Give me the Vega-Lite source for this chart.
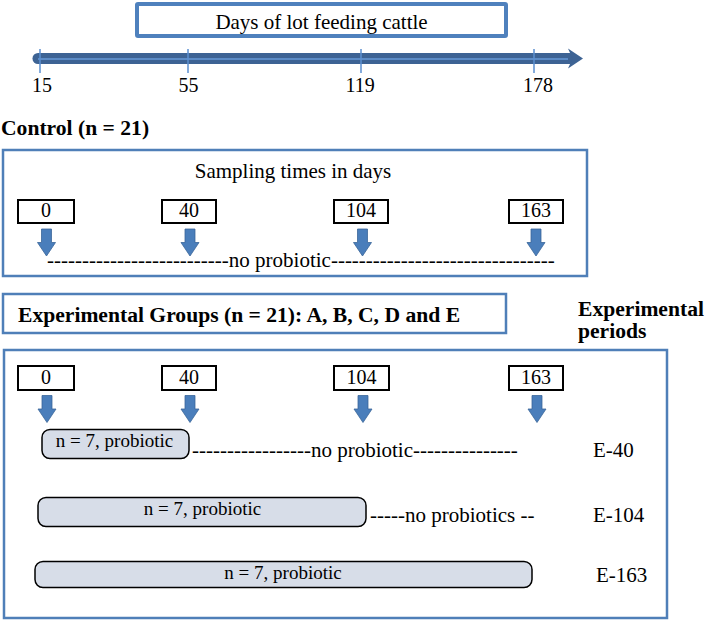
{
  "$schema": "https://vega.github.io/schema/vega-lite/v6.json",
  "width": 709,
  "height": 620,
  "padding": 0,
  "autosize": {"type": "fit", "contains": "padding"},
  "config": {"view": {"stroke": null}},
  "encoding": {
    "x": {"field": "x", "type": "quantitative", "scale": {"domain": [0, 709], "nice": false, "zero": false}, "axis": null},
    "y": {"field": "y", "type": "quantitative", "scale": {"domain": [0, 620], "nice": false, "zero": false, "reverse": true}, "axis": null}
  },
  "layer": [
    {
      "data": {"values": [
        {"name": "control", "x": 3, "x2": 587, "y": 150, "y2": 276},
        {"name": "groups", "x": 3, "x2": 506, "y": 294, "y2": 333},
        {"name": "experimental", "x": 4, "x2": 667, "y": 350, "y2": 618}
      ]},
      "mark": {"type": "rect", "fill": "white", "stroke": "#4f7fb8", "strokeWidth": 2.5},
      "encoding": {"x2": {"field": "x2"}, "y2": {"field": "y2"}}
    },
    {
      "data": {"values": [{"name": "title", "x": 137, "x2": 506, "y": 4, "y2": 36}]},
      "mark": {"type": "rect", "fill": "white", "stroke": "#4f81bd", "strokeWidth": 4, "cornerRadius": 1},
      "encoding": {"x2": {"field": "x2"}, "y2": {"field": "y2"}}
    },
    {
      "data": {"values": [{"x": 38, "x2": 570, "y": 58.5}]},
      "mark": {"type": "rule", "stroke": "#3d6394", "strokeWidth": 11, "strokeCap": "round"},
      "encoding": {"x2": {"field": "x2"}}
    },
    {
      "data": {"values": [{"x": 38, "x2": 568, "y": 59}]},
      "mark": {"type": "rule", "stroke": "#5b8bc6", "strokeWidth": 2},
      "encoding": {"x2": {"field": "x2"}}
    },
    {
      "data": {"values": [{"x": 575.5, "y": 58.5}]},
      "mark": {"type": "point", "filled": true, "fill": "#3d6394", "opacity": 1, "size": 400, "shape": "M-0.75,-1 L0.75,0 L-0.75,1 L-0.3,0 Z"},
      "encoding": {}
    },
    {
      "data": {"values": [
        {"x": 40, "y": 49, "y2": 73},
        {"x": 188, "y": 49, "y2": 73},
        {"x": 361, "y": 49, "y2": 73},
        {"x": 534, "y": 49, "y2": 73}
      ]},
      "mark": {"type": "rule", "stroke": "#5b8fd0", "strokeWidth": 1.5},
      "encoding": {"y2": {"field": "y2"}}
    },
    {
      "data": {"values": [
        {"x": 18, "x2": 74, "y": 200, "y2": 223},
        {"x": 162, "x2": 216, "y": 200, "y2": 223},
        {"x": 334, "x2": 388, "y": 200, "y2": 223},
        {"x": 509, "x2": 563, "y": 200, "y2": 223},
        {"x": 18, "x2": 74, "y": 366, "y2": 390},
        {"x": 162, "x2": 216, "y": 366, "y2": 390},
        {"x": 334, "x2": 389, "y": 366, "y2": 390},
        {"x": 509, "x2": 563, "y": 366, "y2": 390}
      ]},
      "mark": {"type": "rect", "fill": "white", "stroke": "black", "strokeWidth": 2},
      "encoding": {"x2": {"field": "x2"}, "y2": {"field": "y2"}}
    },
    {
      "data": {"values": [
        {"x": 46.5, "y": 242.5},
        {"x": 190, "y": 242.5},
        {"x": 362.5, "y": 242.5},
        {"x": 536, "y": 242.5},
        {"x": 47, "y": 409},
        {"x": 190, "y": 409},
        {"x": 363, "y": 409},
        {"x": 537, "y": 409}
      ]},
      "mark": {"type": "point", "filled": true, "fill": "#4a7ebb", "stroke": "#3a6699", "strokeWidth": 0.8, "opacity": 1, "size": 729, "shape": "M-0.37,-1 L0.37,-1 L0.37,0 L0.667,0 L0,1 L-0.667,0 L-0.37,0 Z"},
      "encoding": {}
    },
    {
      "data": {"values": [
        {"x": 42, "x2": 189, "y": 429.5, "y2": 458.5},
        {"x": 38, "x2": 366, "y": 497.5, "y2": 526.5},
        {"x": 35, "x2": 532, "y": 561.5, "y2": 587.5}
      ]},
      "mark": {"type": "rect", "fill": "#d7dde8", "stroke": "black", "strokeWidth": 1.5, "cornerRadius": 8},
      "encoding": {"x2": {"field": "x2"}, "y2": {"field": "y2"}}
    },
    {
      "data": {"values": [
        {"t": "Days of lot feeding cattle", "x": 321.5, "y": 29},
        {"t": "Sampling times in days", "x": 293, "y": 178}
      ]},
      "mark": {"type": "text", "font": "Liberation Serif", "fontSize": 21, "align": "center", "baseline": "alphabetic", "color": "black"},
      "encoding": {"text": {"field": "t"}}
    },
    {
      "data": {"values": [
        {"t": "15", "x": 42, "y": 92},
        {"t": "55", "x": 188.5, "y": 92},
        {"t": "119", "x": 360, "y": 92},
        {"t": "178", "x": 538, "y": 92},
        {"t": "0", "x": 46, "y": 217},
        {"t": "40", "x": 189, "y": 217},
        {"t": "104", "x": 361, "y": 217},
        {"t": "163", "x": 536, "y": 217},
        {"t": "0", "x": 46, "y": 384},
        {"t": "40", "x": 189, "y": 384},
        {"t": "104", "x": 361.5, "y": 384},
        {"t": "163", "x": 536, "y": 384}
      ]},
      "mark": {"type": "text", "font": "Liberation Serif", "fontSize": 20, "align": "center", "baseline": "alphabetic", "color": "black"},
      "encoding": {"text": {"field": "t"}}
    },
    {
      "data": {"values": [
        {"t": "Control (n = 21)", "x": 1, "y": 135},
        {"t": "Experimental Groups (n = 21): A, B, C, D and E", "x": 18, "y": 322},
        {"t": "Experimental", "x": 578, "y": 316},
        {"t": "periods", "x": 578, "y": 338}
      ]},
      "mark": {"type": "text", "font": "Liberation Serif", "fontSize": 21.6, "fontWeight": "bold", "align": "left", "baseline": "alphabetic", "color": "black"},
      "encoding": {"text": {"field": "t"}}
    },
    {
      "data": {"values": [
        {"t": "--------------------------no probiotic--------------------------------", "x": 47, "y": 267},
        {"t": "-----------------no probiotic---------------", "x": 192, "y": 457},
        {"t": "-----no probiotics --", "x": 370, "y": 522},
        {"t": "E-40", "x": 593, "y": 457},
        {"t": "E-104", "x": 593, "y": 522},
        {"t": "E-163", "x": 596, "y": 582}
      ]},
      "mark": {"type": "text", "font": "Liberation Serif", "fontSize": 21, "align": "left", "baseline": "alphabetic", "color": "black"},
      "encoding": {"text": {"field": "t"}}
    },
    {
      "data": {"values": [
        {"t": "n = 7, probiotic", "x": 114.5, "y": 447},
        {"t": "n = 7, probiotic", "x": 202.5, "y": 515},
        {"t": "n = 7, probiotic", "x": 283, "y": 579}
      ]},
      "mark": {"type": "text", "font": "Liberation Serif", "fontSize": 19, "align": "center", "baseline": "alphabetic", "color": "black"},
      "encoding": {"text": {"field": "t"}}
    }
  ]
}
